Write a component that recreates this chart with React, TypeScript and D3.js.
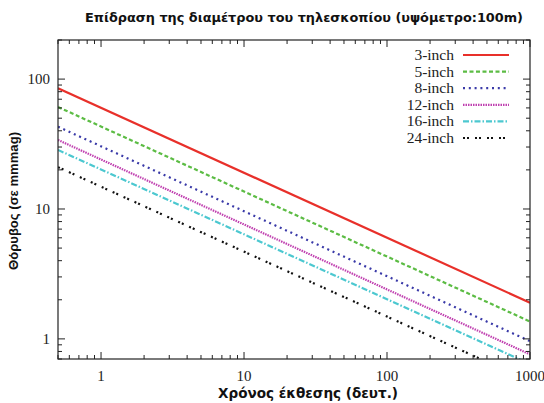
import {useEffect, useRef} from 'react';
import * as d3 from 'd3';

// endpoints (x = 0.5 s and x = 1000 s)
const timeRange = [0.5, 1000];
const seriesNames = ['3-inch', '5-inch', '8-inch', '12-inch', '16-inch', '24-inch'];
const startValues = [85, 61, 43, 34, 28.5, 21];
const endValues = [1.9, 1.36, 0.96, 0.76, 0.64, 0.47];
const xTicks = [1, 10, 100, 1000];
const yTicks = [1, 10, 100];

const colors = ['#e8302a', '#5cbc44', '#3a3aa8', '#c040b0', '#4cc8d0', '#111111'];
const dashes = ['none', '4,2.5', '2,3.8', '1.5,1', '6,2,1.5,2', '2,2,2,6'];

function App(){
	const ref = useRef<SVGSVGElement>(null);

	useEffect(()=>{
		const svg = d3.select(ref.current);
		svg.selectAll('*').remove();

		const W = 544, H = 403
			, m = {left: 58, right: 14, top: 40, bottom: 44}
			, x = d3.scaleLog().domain([0.5, 1000]).range([m.left, W - m.right])
			, y = d3.scaleLog().domain([0.7, 200]).range([H - m.bottom, m.top])
			, serif = '"Liberation Serif", "Times New Roman", serif'
			, sans = '"Liberation Sans", Arial, sans-serif'
			, wide = '"DejaVu Sans", Verdana, sans-serif'
			;

		svg.append('clipPath').attr('id', 'plot-clip').append('rect')
			.attr('x', m.left).attr('y', m.top)
			.attr('width', W - m.left - m.right).attr('height', H - m.top - m.bottom);

		// series
		const line = d3.line<[number, number]>().x(d => x(d[0])).y(d => y(d[1]));
		seriesNames.forEach((name, i)=>{
			svg.append('path')
				.datum([[timeRange[0], startValues[i]], [timeRange[1], endValues[i]]] as [number, number][])
				.attr('d', line)
				.attr('clip-path', 'url(#plot-clip)')
				.attr('fill', 'none')
				.attr('stroke', colors[i])
				.attr('stroke-width', 2.2)
				.attr('stroke-dasharray', dashes[i]);
		});

		// frame
		svg.append('rect')
			.attr('x', m.left).attr('y', m.top)
			.attr('width', W - m.left - m.right).attr('height', H - m.top - m.bottom)
			.attr('fill', 'none').attr('stroke', '#222').attr('stroke-width', 1.2);

		// ticks on all four sides, pointing in
		const xMinor: number[] = [], yMinor: number[] = [];
		[0.1, 1, 10, 100].forEach(b => d3.range(2, 10).forEach(k => {
			const v = b * k;
			if (v >= 0.5 && v <= 1000) xMinor.push(v);
		}));
		[0.1, 1, 10, 100].forEach(b => d3.range(2, 10).forEach(k => {
			const v = b * k;
			if (v >= 0.7 && v <= 200) yMinor.push(v);
		}));
		const tickG = svg.append('g').attr('stroke', '#222').attr('stroke-width', 1);
		const xt = (v: number, len: number)=>{
			tickG.append('line').attr('x1', x(v)).attr('x2', x(v)).attr('y1', H - m.bottom).attr('y2', H - m.bottom - len);
			tickG.append('line').attr('x1', x(v)).attr('x2', x(v)).attr('y1', m.top).attr('y2', m.top + len);
		};
		const yt = (v: number, len: number)=>{
			tickG.append('line').attr('y1', y(v)).attr('y2', y(v)).attr('x1', m.left).attr('x2', m.left + len);
			tickG.append('line').attr('y1', y(v)).attr('y2', y(v)).attr('x1', W - m.right).attr('x2', W - m.right - len);
		};
		xTicks.forEach(v => xt(v, 7));
		xMinor.forEach(v => xt(v, 4));
		yTicks.forEach(v => yt(v, 7));
		yMinor.forEach(v => yt(v, 4));

		// tick labels
		svg.append('g').selectAll('text').data(xTicks).join('text')
			.attr('x', d => x(d)).attr('y', H - m.bottom + 22)
			.attr('text-anchor', 'middle')
			.attr('font-family', serif).attr('font-size', 15).attr('fill', '#222')
			.text(d => d);
		svg.append('g').selectAll('text').data(yTicks).join('text')
			.attr('x', m.left - 8).attr('y', d => y(d) + 5)
			.attr('text-anchor', 'end')
			.attr('font-family', serif).attr('font-size', 15).attr('fill', '#222')
			.text(d => d);

		// titles
		svg.append('text')
			.attr('x', 304).attr('y', 22).attr('text-anchor', 'middle')
			.attr('font-family', wide).attr('font-weight', 'bold').attr('font-size', 13).attr('fill', '#111')
			.attr('textLength', 438).attr('lengthAdjust', 'spacingAndGlyphs')
			.text('Επίδραση της διαμέτρου του τηλεσκοπίου (υψόμετρο:100m)');
		svg.append('text')
			.attr('x', 308).attr('y', 398).attr('text-anchor', 'middle')
			.attr('font-family', wide).attr('font-weight', 'bold').attr('font-size', 14).attr('fill', '#111')
			.attr('textLength', 180).attr('lengthAdjust', 'spacingAndGlyphs')
			.text('Χρόνος έκθεσης (δευτ.)');
		svg.append('text')
			.attr('transform', 'translate(18,201) rotate(-90)')
			.attr('text-anchor', 'middle')
			.attr('font-family', sans).attr('font-weight', 'bold').attr('font-size', 12.5).attr('fill', '#111')
			.attr('textLength', 138).attr('lengthAdjust', 'spacingAndGlyphs')
			.text('Θόρυβος (σε mmmag)');

		// legend
		const lg = svg.append('g');
		seriesNames.forEach((name, i)=>{
			const ly = 55 + i * 16.6;
			lg.append('text')
				.attr('x', 454).attr('y', ly + 5).attr('text-anchor', 'end')
				.attr('font-family', serif).attr('font-size', 15.5).attr('fill', '#222')
				.text(name);
			lg.append('line')
				.attr('x1', 463).attr('x2', 509).attr('y1', ly).attr('y2', ly)
				.attr('stroke', colors[i]).attr('stroke-width', 2.2)
				.attr('stroke-dasharray', dashes[i]);
		});
	}, []);

	return (<svg ref={ref} width={544} height={403}
		style={{position: 'absolute', left: 0, top: 0, background: '#fff'}}/>);
}

export default App;
